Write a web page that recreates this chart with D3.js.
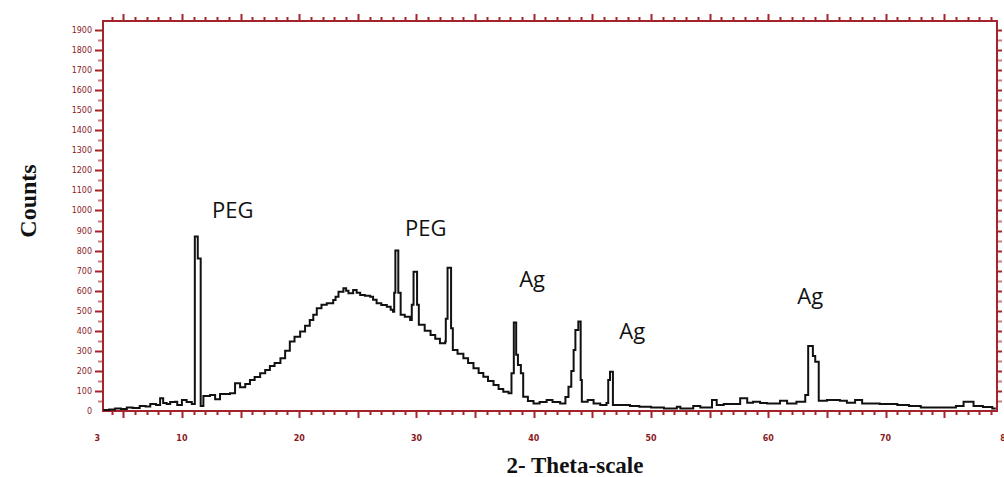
<!DOCTYPE html>
<html><head><meta charset="utf-8">
<script src="https://cdn.jsdelivr.net/npm/d3@7"></script>
<style>body{margin:0;background:#fff;} svg{display:block}</style>
</head><body><svg id="c" width="1004" height="477"></svg>
<script>
const twoTheta = [3.3,3.8,4.3,4.8,5.3,5.8,6.4,6.9,7.3,7.8,8.14,8.4,8.7,9.0,9.4,9.6,10.0,10.4,10.84,11.1,11.35,11.6,11.83,12.4,12.83,13.25,13.7,14.1,14.53,14.96,15.4,15.8,16.2,16.67,17.1,17.5,17.9,18.4,18.8,19.2,19.6,20.08,20.5,20.9,21.2,21.5,21.9,22.35,22.9,23.1,23.35,23.77,24.0,24.2,24.6,24.9,25.2,25.6,26.05,26.3,26.6,27.0,27.47,27.8,28.0,28.1,28.2,28.45,28.65,29.0,29.46,29.6,29.75,30.05,30.2,30.7,31.2,31.6,32.0,32.45,32.5,32.65,32.95,33.1,33.5,34.0,34.4,34.86,35.3,35.7,36.1,36.57,37.0,37.4,37.85,38.1,38.3,38.5,38.65,38.9,39.1,39.5,39.98,40.5,41.1,41.6,42.25,42.7,42.96,43.2,43.4,43.55,43.8,44.0,44.1,44.6,45.1,45.67,46.2,46.35,46.5,46.75,47.37,48.2,49.0,50.0,51.1,52.2,52.5,53.6,54.2,55.2,55.6,56.2,56.76,57.6,58.2,58.7,59.3,59.9,61.0,61.6,62.4,63.15,63.4,63.8,64.0,64.3,65.0,66.1,66.7,67.4,68.0,69.5,71.0,72.0,73.0,74.1,75.2,76.0,76.65,77.5,78.3,79.1,79.4];
const counts = [5,8,13,10,18,15,25,22,35,30,63,40,35,45,46,30,55,45,35,870,760,25,75,80,58,85,85,88,138,118,135,155,170,188,205,225,240,263,300,346,370,396,425,454,480,512,530,537,554,570,595,612,600,587,604,590,579,575,570,555,537,529,520,505,495,590,800,590,480,470,454,530,695,530,430,400,379,360,338,346,460,715,413,304,285,263,240,213,190,171,150,130,110,96,88,188,441,280,230,188,71,50,38,45,55,45,38,70,121,200,304,404,446,155,46,55,38,30,40,155,196,30,30,25,21,18,13,21,13,25,18,55,30,35,35,63,41,46,40,38,51,38,46,80,324,274,246,51,55,51,41,55,38,35,30,25,18,18,18,25,46,25,20,13,13];
const yTickLabels = d3.range(0, 2000, 100);
const xTickLabels = [3,10,20,30,40,50,60,70,80];
const annotLabels = ["PEG","PEG","Ag","Ag","Ag"];
const annotTheta = [12.57,29.03,38.76,47.29,62.47];
const annotCounts = [963,873,619,359,534];

(function () {
const svg = d3.select("#c");
const W = 1004, H = 477;
const pL = 103, pR = 997, pT = 21, pB = 411;
const x = d3.scaleLinear().domain([3.27, 79.5]).range([pL, pR]);
const y = d3.scaleLinear().domain([0, 1945]).range([pB, pT]);
const axisColor = "#a3242a";
const labelColor = "#8b1a1f";

svg.append("rect").attr("width", W).attr("height", H).attr("fill", "#fff");

const g = svg.append("g").attr("stroke", axisColor).attr("stroke-width", 2);
d3.range(4, 80).forEach(v => {
  const major = v % 5 === 0;
  const px = Math.round(x(v)) + 0.5;
  g.append("line").attr("x1", px).attr("x2", px).attr("y1", pB).attr("y2", pB + (major ? 7 : 4));
  g.append("line").attr("x1", px).attr("x2", px).attr("y1", pT).attr("y2", pT - (major ? 7 : 4));
});
d3.range(50, 1950, 50).forEach(v => {
  const major = v % 100 === 0;
  const py = Math.round(y(v)) + 0.5;
  g.append("line").attr("x1", pL).attr("x2", pL - (major ? 8 : 5)).attr("y1", py).attr("y2", py)
    .attr("stroke-opacity", major ? 1 : 0.6);
  g.append("line").attr("x1", pR).attr("x2", pR + 5).attr("y1", py).attr("y2", py)
    .attr("stroke-opacity", major ? 1 : 0.6);
});

svg.append("rect").attr("x", pL).attr("y", pT).attr("width", pR - pL).attr("height", pB - pT)
  .attr("fill", "none").attr("stroke", axisColor).attr("stroke-width", 2);

svg.append("g").selectAll("text").data(yTickLabels).join("text")
  .attr("x", 92).attr("y", d => y(d) + 3)
  .attr("text-anchor", "end").attr("font-family", "DejaVu Sans, sans-serif").attr("font-size", 8)
  .attr("fill", labelColor).text(d => d);
svg.append("g").selectAll("text").data(xTickLabels).join("text")
  .attr("x", d => x(d) + (d === 3 ? -2.5 : d === 80 ? 3 : 0)).attr("y", 441)
  .attr("text-anchor", "middle").attr("font-family", "DejaVu Sans, sans-serif").attr("font-size", 8)
  .attr("font-weight", "bold").attr("fill", labelColor).text(d => d);

const pts = twoTheta.map((t, i) => [t, counts[i]]);
const line = d3.line().x(d => x(d[0])).y(d => y(d[1])).curve(d3.curveStepAfter);
svg.append("path").datum(pts).attr("d", line).attr("fill", "none")
  .attr("stroke", "#111").attr("stroke-width", 2).attr("stroke-linejoin", "miter");

svg.append("g").selectAll("text").data(annotLabels).join("text")
  .attr("x", (d, i) => x(annotTheta[i])).attr("y", (d, i) => y(annotCounts[i]))
  .attr("font-family", "Open Sans, sans-serif").attr("font-size", 22).attr("fill", "#111")
  .text(d => d);

svg.append("text").attr("transform", "translate(36,201) rotate(-90)")
  .attr("text-anchor", "middle").attr("font-family", "Liberation Serif, serif")
  .attr("font-weight", "bold").attr("font-size", 24).attr("fill", "#111").text("Counts");
svg.append("text").attr("x", 575).attr("y", 473)
  .attr("text-anchor", "middle").attr("font-family", "Liberation Serif, serif")
  .attr("font-weight", "bold").attr("font-size", 23).attr("fill", "#111").text("2- Theta-scale");
})();
</script>
</body></html>
